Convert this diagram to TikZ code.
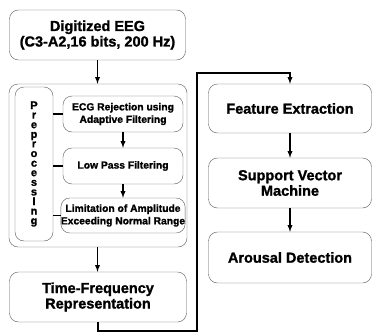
\documentclass[tikz,border=0pt]{standalone}
\usepackage{fontspec}
\setmainfont{Liberation Sans}[BoldFeatures={FakeBold=1.4}]
\usetikzlibrary{arrows}

\begin{document}
\begin{tikzpicture}[>=latex, x=1pt, y=-1pt]

\tikzstyle{big}=[draw=black!65, rounded corners=9pt, align=center, inner sep=0pt, font=\bfseries\fontsize{14.5}{15.5}\selectfont]
\tikzstyle{small}=[draw=black!65, rounded corners=9pt, align=center, inner sep=0pt, minimum width=120pt, font=\bfseries\fontsize{10.3}{12.5}\selectfont]
\tikzstyle{frame}=[draw=black!65, rounded corners=9pt, inner sep=0pt]
\tikzstyle{arrow}=[->, line width=1.3pt]
\tikzstyle{link}=[line width=1.3pt]

\useasboundingbox (0,0) rectangle (372,332);

% --- input ---
\node[big, minimum width=176pt, minimum height=50pt] (eeg) at (97.5,35) {Digitized EEG\\(C3-A2,16 bits, 200 Hz)};

% --- preprocessing block ---
\node[frame, minimum width=178pt, minimum height=163pt] (prebox) at (98,165.5) {};
\node[frame, minimum width=38pt, minimum height=154pt, align=center, font=\bfseries\fontsize{11}{9.6}\selectfont] (prelabel) at (34,164) {P\\r\\e\\p\\r\\o\\c\\e\\s\\s\\I\\n\\g};
\node[small, minimum height=36pt] (ecg) at (123,114) {ECG Rejection using\\Adaptive Filtering};
\node[small, minimum height=36pt] (lpf) at (123,166) {Low Pass Filtering};
\node[small, minimum height=35pt] (lim) at (123,215.5) {Limitation of Amplitude\\Exceeding Normal Range};

\draw[link] (ecg.west) -- (ecg.west -| prelabel.east);
\draw[link] (lpf.west) -- (lpf.west -| prelabel.east);
\draw[link] (lim.west) -- (lim.west -| prelabel.east);
\draw[arrow] (ecg) -- (lpf);
\draw[arrow] (lpf) -- (lim);

% --- time-frequency ---
\node[big, minimum width=177pt, minimum height=50pt] (tfr) at (98,297) {Time-Frequency\\Representation};

\draw[arrow] (eeg.south) -- (eeg.south |- prebox.north);
\draw[arrow] (prebox.south -| eeg.south) -- (tfr.north -| eeg.south);

% --- classification chain ---
\node[big, minimum width=163pt, minimum height=49pt] (fe) at (290,108.5) {Feature Extraction};
\node[big, minimum width=163pt, minimum height=50pt] (svm) at (290,183) {Support Vector\\Machine};
\node[big, minimum width=163pt, minimum height=51pt] (aro) at (290,257.5) {Arousal Detection};

\draw[arrow] (fe) -- (svm);
\draw[arrow] (svm) -- (aro);

% --- loop back to the right column ---
\coordinate (turnlow) at (197,331);
\coordinate (turnhigh) at (197,73);
\draw[arrow] (tfr.south) |- (turnlow) -- (turnhigh) -| (fe.north);

\end{tikzpicture}
\end{document}
